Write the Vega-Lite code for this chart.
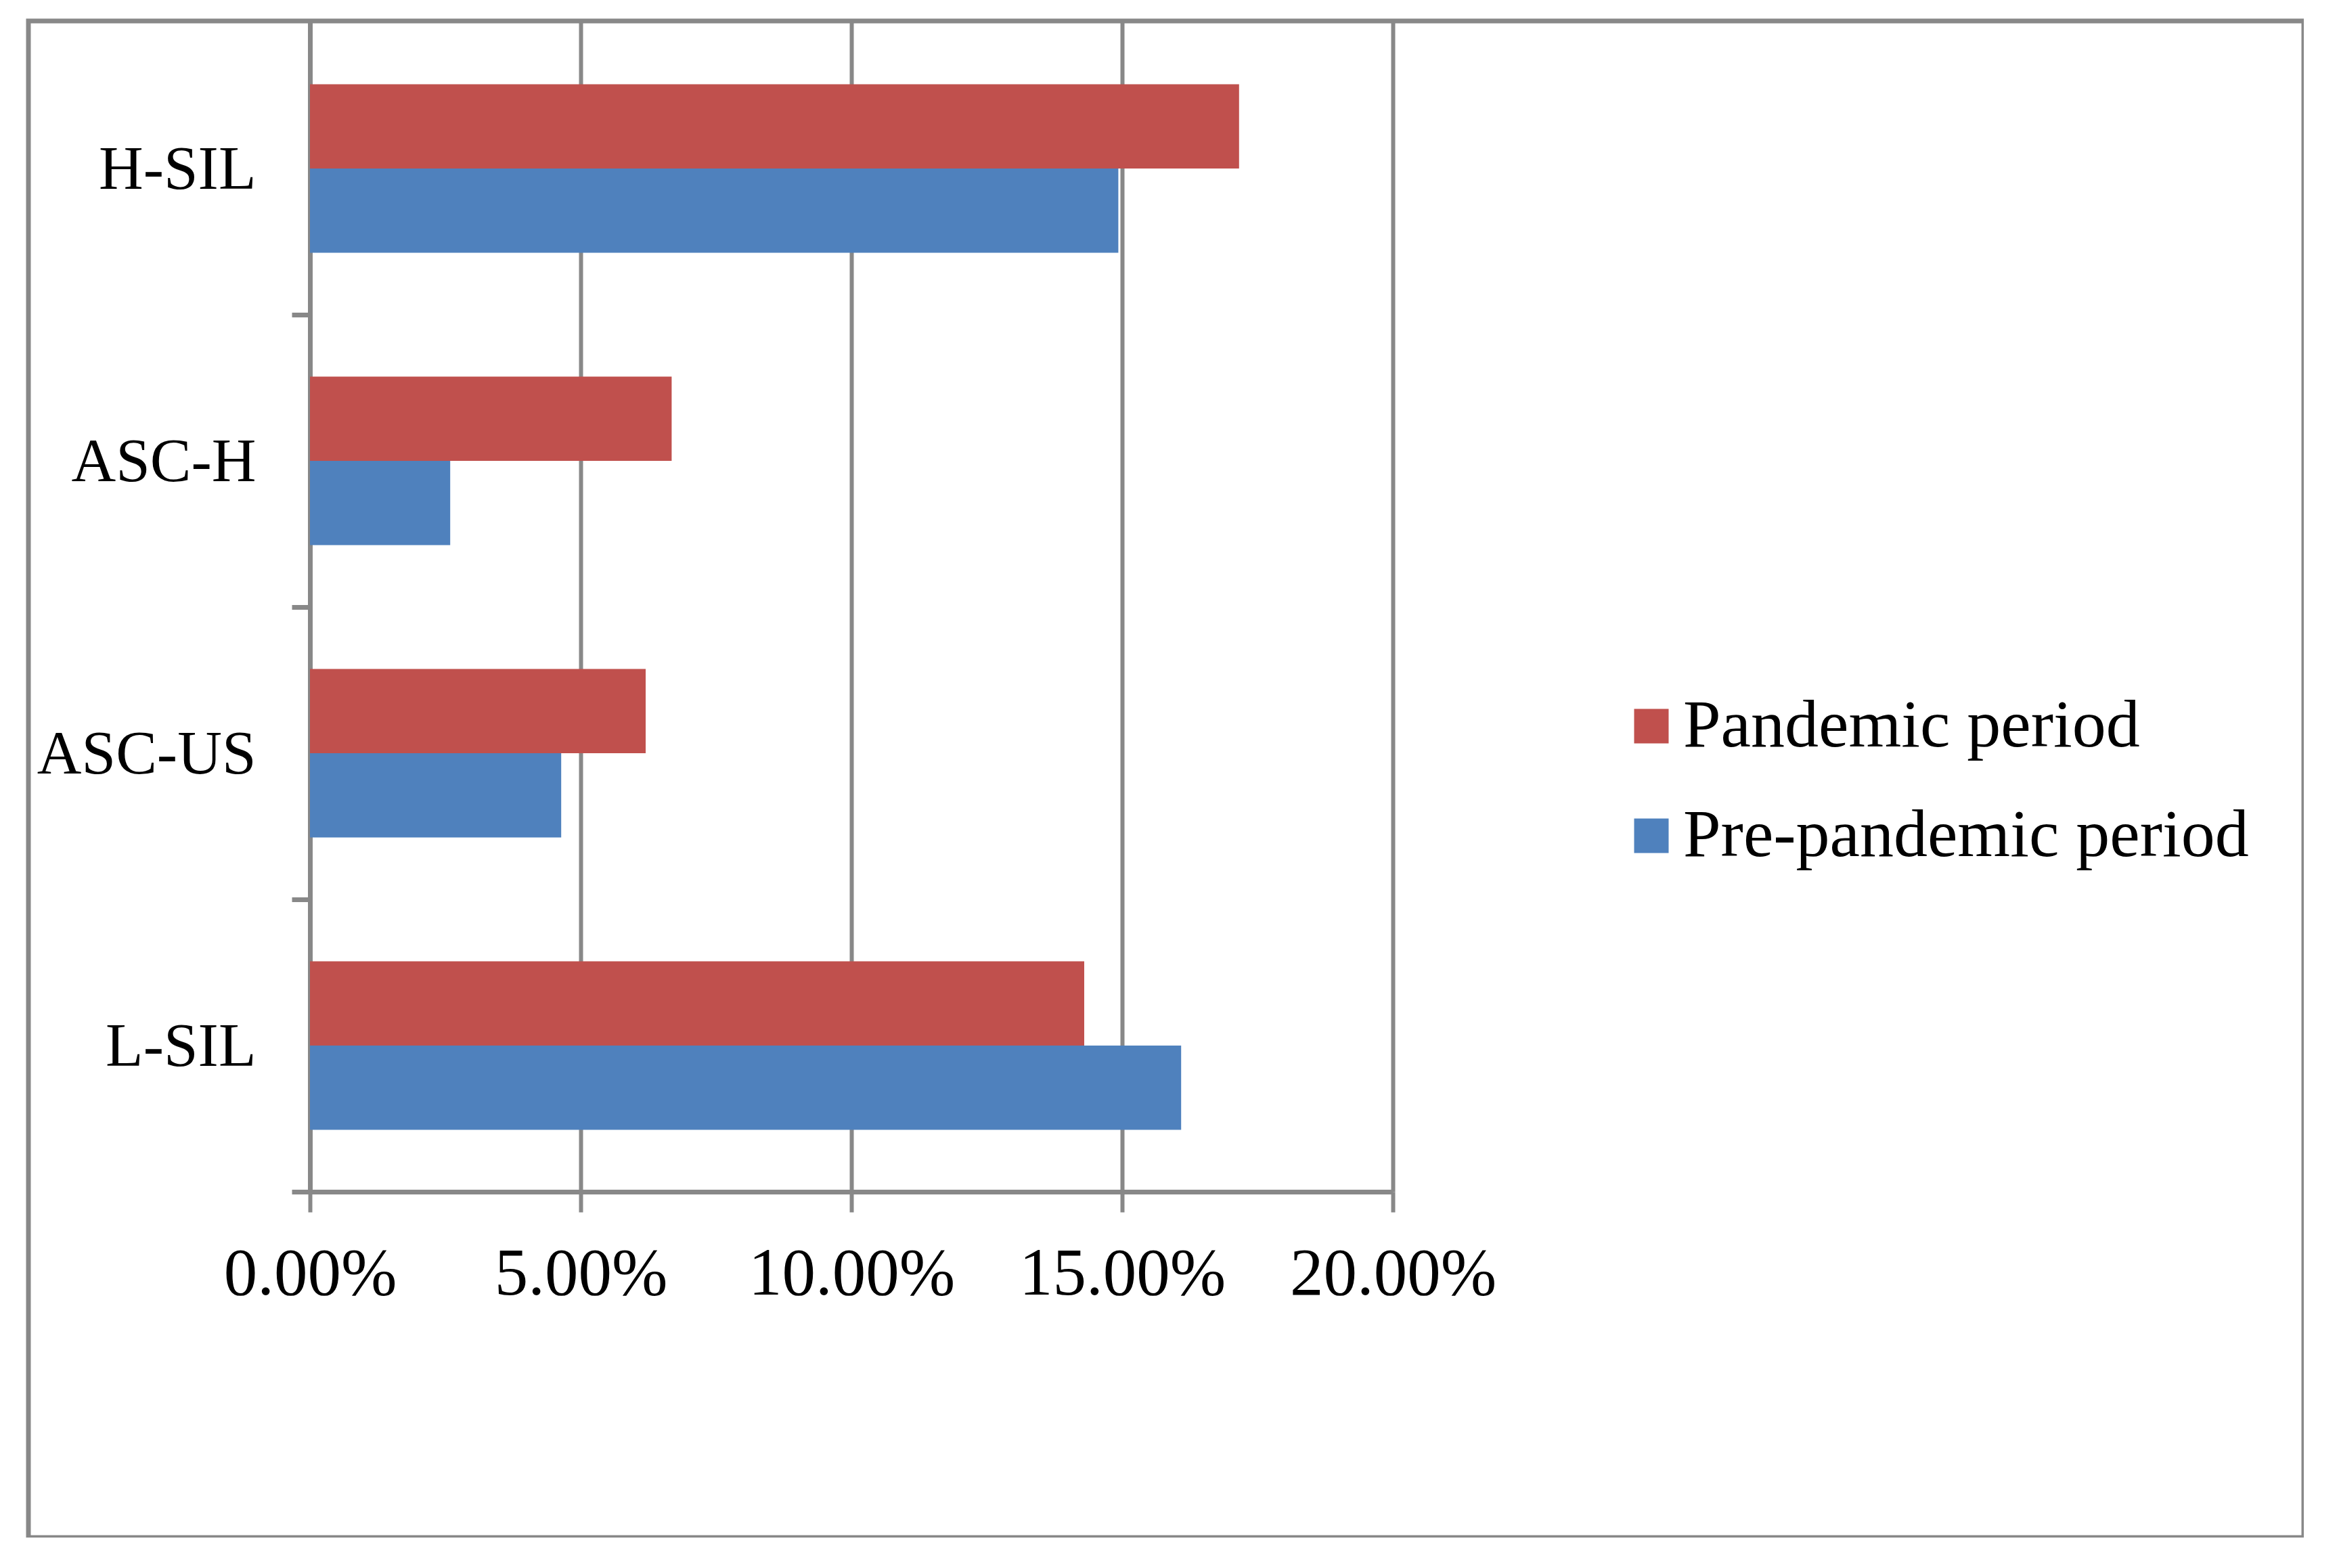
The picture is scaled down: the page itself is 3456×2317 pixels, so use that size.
{
  "$schema": "https://vega.github.io/schema/vega-lite/v6.json",
  "autosize": {"type": "none"},
  "padding": {"left": 42, "top": 31, "right": 0, "bottom": 0},
  "width": 3362,
  "height": 2241,
  "background": "white",
  "config": {
    "view": {"stroke": "#888888", "strokeWidth": 7},
    "font": "Liberation Serif"
  },
  "data": {
    "values": [
      {"category": "H-SIL", "period": "Pandemic period", "value": 0.1716},
      {"category": "H-SIL", "period": "Pre-pandemic period", "value": 0.1493},
      {"category": "ASC-H", "period": "Pandemic period", "value": 0.0668},
      {"category": "ASC-H", "period": "Pre-pandemic period", "value": 0.0259},
      {"category": "ASC-US", "period": "Pandemic period", "value": 0.0620},
      {"category": "ASC-US", "period": "Pre-pandemic period", "value": 0.0464},
      {"category": "L-SIL", "period": "Pandemic period", "value": 0.1430},
      {"category": "L-SIL", "period": "Pre-pandemic period", "value": 0.1609}
    ]
  },
  "resolve": {"axis": {"x": "independent"}},
  "layer": [
    {
      "mark": {"type": "bar", "opacity": 0},
      "encoding": {
        "y": {
          "field": "category",
          "type": "nominal",
          "sort": ["H-SIL", "ASC-H", "ASC-US", "L-SIL"],
          "scale": {"range": [2, 1730], "paddingInner": 0.424, "paddingOuter": 0.212},
          "axis": {
            "title": null,
            "offset": -416,
            "grid": false,
            "domainColor": "#888888",
            "domainWidth": 7,
            "tickColor": "#888888",
            "tickWidth": 7,
            "tickSize": 27,
            "tickOffset": 216,
            "labelOffset": -187,
            "labelFontSize": 91,
            "labelFont": "Liberation Serif",
            "labelColor": "black",
            "labelPadding": 53,
            "labelBaseline": "alphabetic",
            "labelAlign": "right",
            "labelLimit": 0
          }
        },
        "x": {
          "field": "value",
          "type": "quantitative",
          "scale": {"domain": [0, 0.2], "range": [416, 2016], "nice": false, "zero": true},
          "axis": {
            "title": null,
            "orient": "top",
            "offset": 0,
            "values": [0, 0.05, 0.1, 0.15, 0.2],
            "grid": true,
            "gridColor": "#888888",
            "gridWidth": 6,
            "gridOpacity": 1,
            "labels": false,
            "ticks": false,
            "domain": false
          }
        }
      }
    },
    {
      "mark": {"type": "bar"},
      "encoding": {
        "y": {
          "field": "category",
          "type": "nominal",
          "sort": ["H-SIL", "ASC-H", "ASC-US", "L-SIL"],
          "scale": {"range": [2, 1730], "paddingInner": 0.424, "paddingOuter": 0.212},
          "axis": {
            "title": null,
            "offset": -416,
            "grid": false,
            "domainColor": "#888888",
            "domainWidth": 7,
            "tickColor": "#888888",
            "tickWidth": 7,
            "tickSize": 27,
            "tickOffset": 216,
            "labelOffset": -187,
            "labelFontSize": 91,
            "labelFont": "Liberation Serif",
            "labelColor": "black",
            "labelPadding": 53,
            "labelBaseline": "alphabetic",
            "labelAlign": "right",
            "labelLimit": 0
          }
        },
        "x": {
          "field": "value",
          "type": "quantitative",
          "scale": {"domain": [0, 0.2], "range": [416, 2016], "nice": false, "zero": true},
          "axis": {
            "title": null,
            "orient": "bottom",
            "offset": -511,
            "values": [0, 0.05, 0.1, 0.15, 0.2],
            "format": ".2%",
            "grid": false,
            "domainColor": "#888888",
            "domainWidth": 7,
            "tickColor": "#888888",
            "tickWidth": 6,
            "tickSize": 30,
            "labelFontSize": 99,
            "labelFont": "Liberation Serif",
            "labelColor": "black",
            "labelPadding": 121,
            "labelBaseline": "alphabetic",
            "labelFlush": false,
            "labelOverlap": false,
            "labelLimit": 0
          }
        },
        "yOffset": {
          "field": "period",
          "type": "nominal",
          "sort": ["Pandemic period", "Pre-pandemic period"],
          "scale": {"paddingInner": 0, "paddingOuter": 0}
        },
        "color": {
          "field": "period",
          "type": "nominal",
          "scale": {
            "domain": ["Pandemic period", "Pre-pandemic period"],
            "range": ["#C0504D", "#4F81BD"]
          },
          "legend": {
            "title": null,
            "orient": "none",
            "legendX": 2348,
            "legendY": 992,
            "symbolType": "square",
            "symbolSize": 2601,
            "symbolStrokeWidth": 0,
            "symbolOpacity": 1,
            "labelFontSize": 100,
            "labelFont": "Liberation Serif",
            "labelColor": "black",
            "labelOffset": -3,
            "rowPadding": 62,
            "labelLimit": 0
          }
        }
      }
    }
  ]
}
